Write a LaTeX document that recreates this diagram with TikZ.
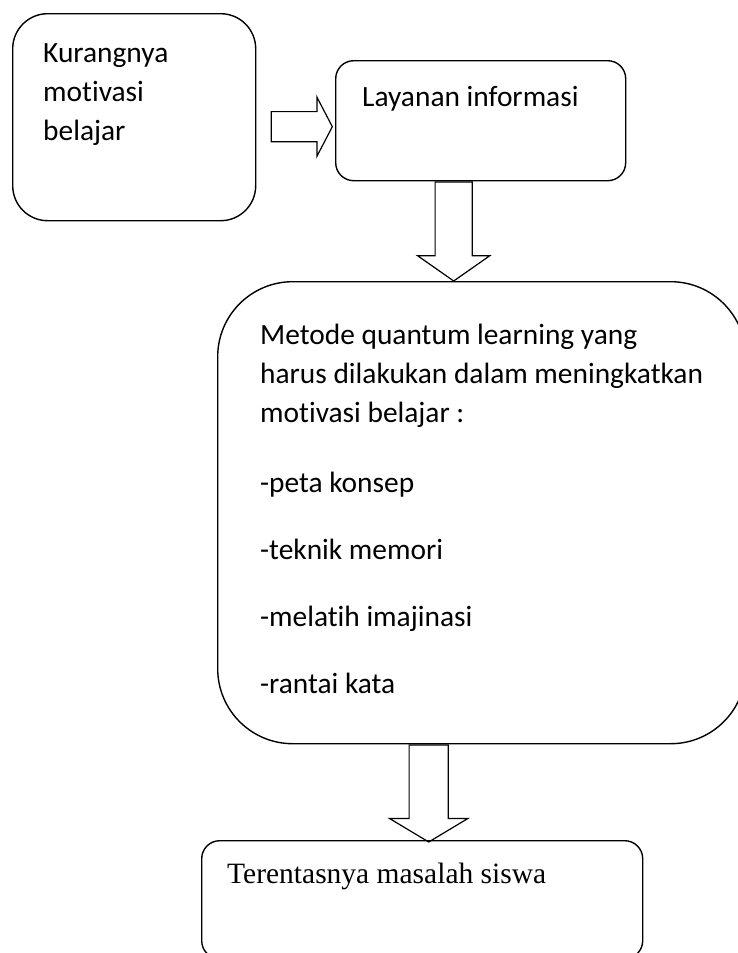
\documentclass[tikz,border=0pt]{standalone}
\usepackage{fontspec}
\setmainfont{Carlito}[Ligatures=NoCommon]
\newfontfamily\timesfont{Liberation Serif}
\usepackage{tikz}
\usetikzlibrary{shapes.arrows,positioning,calc}

\begin{document}
\begin{tikzpicture}[
  x=1pt,y=-1pt,
  roundbox/.style={rectangle,draw,line width=1.4pt,anchor=north west,inner sep=0pt},
  txt/.style={anchor=base west,align=left,inner sep=0pt,font=\fontsize{29.4}{39}\selectfont},
  blockarrow/.style={single arrow,draw,line width=1.2pt,inner sep=0pt}
]
\clip (0,0) rectangle (738,953);

\node[roundbox,rounded corners=35pt,minimum width=243pt,minimum height=207pt] (k1) at (12,13) {};
\node[roundbox,rounded corners=18pt,minimum width=290pt,minimum height=120pt] (l1) at (335,60) {};
\node[roundbox,rounded corners=75pt,minimum width=528pt,minimum height=462pt] (m1) at (217,281) {};
\node[roundbox,rounded corners=18pt,minimum width=441pt,minimum height=118pt] (t1) at (201,840) {};

% base west = baseline of the last line
\node[txt] (k1t) at ($(k1.north west)+(31,127)$) {Kurangnya\\motivasi\\belajar};
\node[txt] (l1t) at ($(l1.north west)+(27,46)$) {Layanan informasi};
\node[txt] (m1t) at ($(m1.north west)+(43,412)$) {Metode quantum learning yang\\harus dilakukan dalam meningkatkan\\motivasi belajar :\\[31pt]-peta konsep\\[28pt]-teknik memori\\[28pt]-melatih imajinasi\\[28pt]-rantai kata};
\node[txt,font=\timesfont\fontsize{29.5}{34}\selectfont] (t1t) at ($(t1.north west)+(26,43)$) {Terentasnya masalah siswa};

% hollow arrows between the boxes
\node[blockarrow,anchor=tip,minimum height=61pt,inner ysep=14.5pt,
      single arrow head extend=14.5pt,single arrow tip angle=125] (a1) at ($(l1.west)+(-2,6)$) {};
\node[blockarrow,anchor=tail,shape border rotate=270,minimum height=99pt,inner xsep=18pt,
      single arrow head extend=17.5pt,single arrow tip angle=110] (a2) at ($(l1.south)+(-27,0)$) {};
\node[blockarrow,anchor=tail,shape border rotate=270,minimum height=97pt,inner xsep=19pt,
      single arrow head extend=19.5pt,single arrow tip angle=118] (a3) at ($(m1.south)+(-53,0)$) {};
\end{tikzpicture}
\end{document}
